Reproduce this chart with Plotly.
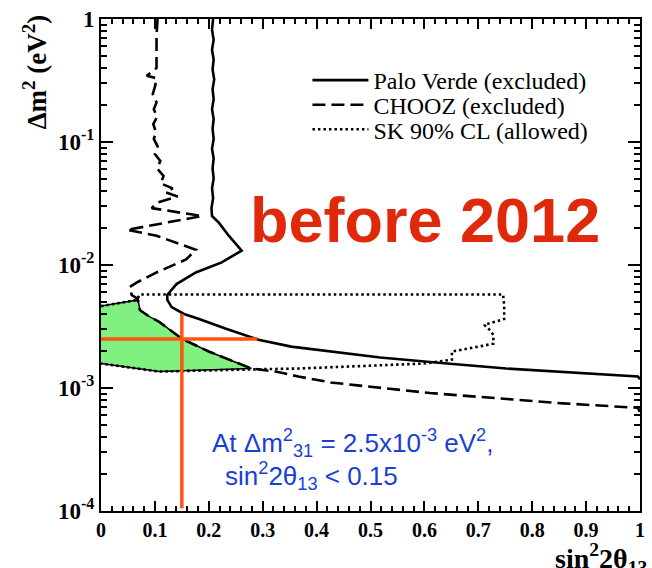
import plotly.graph_objects as go

# Palo Verde excluded contour (solid)
pv_s2 = [0.208, 0.206, 0.209, 0.206, 0.209, 0.207, 0.210, 0.207, 0.209, 0.206,
         0.209, 0.207, 0.209, 0.206, 0.209, 0.207, 0.209, 0.206, 0.208, 0.205,
         0.206, 0.219, 0.237, 0.261, 0.224, 0.176, 0.140, 0.123, 0.123, 0.131,
         0.154, 0.182, 0.232, 0.292, 0.353, 0.415, 0.518, 0.642, 0.752, 0.996, 1.0]
pv_dm2 = [1.0, 0.815, 0.678, 0.563, 0.468, 0.389, 0.323, 0.269, 0.223, 0.185,
          0.154, 0.128, 0.106, 0.0883, 0.0733, 0.061, 0.0506, 0.0421, 0.0349, 0.029,
          0.025, 0.022, 0.0173, 0.0131, 0.0105, 0.0087, 0.0070, 0.0057, 0.0052, 0.00455,
          0.0040, 0.00364, 0.00303, 0.00247, 0.00217, 0.00201, 0.00177, 0.00158, 0.00144, 0.00124, 0.00118]

# CHOOZ excluded contour (dashed)
ch_s2 = [0.105, 0.103, 0.103, 0.085, 0.103, 0.100, 0.096, 0.103, 0.098, 0.104,
         0.097, 0.102, 0.098, 0.105, 0.100, 0.110, 0.104, 0.116, 0.111, 0.133,
         0.120, 0.142, 0.103, 0.094, 0.1875, 0.048, 0.103, 0.176, 0.158, 0.103,
         0.066, 0.053, 0.057, 0.068, 0.070, 0.072, 0.090, 0.108, 0.151, 0.200,
         0.279, 0.324, 0.366, 0.426, 0.476, 0.610, 0.857, 0.996, 1.0]
ch_dm2 = [1.0, 0.74, 0.40, 0.345, 0.33, 0.28, 0.245, 0.21, 0.185, 0.16,
          0.14, 0.12, 0.106, 0.092, 0.08, 0.07, 0.061, 0.053, 0.046, 0.042,
          0.039, 0.036, 0.032, 0.029, 0.025, 0.0193, 0.0173, 0.0133, 0.0111, 0.0087,
          0.0072, 0.0066, 0.0057, 0.0053, 0.0049, 0.0043, 0.0038, 0.00345, 0.0025, 0.00198,
          0.00144, 0.00136, 0.00124, 0.00111, 0.00105, 0.00091, 0.00075, 0.00069, 0.00064]

# SK 90% CL allowed contour (dotted)
sk_s2 = [0.0, 0.066, 0.072, 0.746, 0.748, 0.748, 0.711, 0.721, 0.728, 0.728,
         0.651, 0.651, 0.599, 0.476, 0.366, 0.292, 0.108, 0.0]
sk_dm2 = [0.00463, 0.00518, 0.00575, 0.00575, 0.00472, 0.00364, 0.00326, 0.00297, 0.00271, 0.00229,
          0.00198, 0.0017, 0.00158, 0.0015, 0.00144, 0.00142, 0.00136, 0.00158]

# Allowed region (green)
gr_s2 = [0.0, 0.066, 0.070, 0.072, 0.090, 0.108, 0.151, 0.200, 0.279, 0.200, 0.108, 0.0]
gr_dm2 = [0.00463, 0.00518, 0.0049, 0.0043, 0.0038, 0.00345, 0.0025, 0.00198, 0.00144, 0.0014, 0.00136, 0.00158]

# Orange cross marking the limit
cross_h_s2 = [0.0, 0.29]
cross_h_dm2 = [0.0025, 0.0025]
cross_v_s2 = [0.15, 0.15]
cross_v_dm2 = [1.05e-4, 0.004]

y_tickvals = [1e-4, 1e-3, 1e-2, 1e-1, 1]
y_ticktext = ["10<sup>-4</sup>", "10<sup>-3</sup>", "10<sup>-2</sup>", "10<sup>-1</sup>", "1"]
x_tickvals = [0, 0.1, 0.2, 0.3, 0.4, 0.5, 0.6, 0.7, 0.8, 0.9, 1]
x_ticktext = ["0", "0.1", "0.2", "0.3", "0.4", "0.5", "0.6", "0.7", "0.8", "0.9", "1"]

SERIF = "Liberation Serif, Times New Roman, serif"
SANS = "Liberation Sans, Arial, sans-serif"

fig = go.Figure()
fig.add_trace(go.Scatter(x=gr_s2, y=gr_dm2, fill="toself", fillcolor="#80f080",
                         mode="lines", line=dict(color="black", width=1.5),
                         showlegend=False, hoverinfo="skip"))
fig.add_trace(go.Scatter(x=pv_s2, y=pv_dm2, mode="lines", name="Palo Verde (excluded)",
                         line=dict(color="black", width=2.6), legend="legend"))
fig.add_trace(go.Scatter(x=ch_s2, y=ch_dm2, mode="lines", name="CHOOZ (excluded)",
                         line=dict(color="black", width=2.6, dash="13px,6px"), legend="legend2"))
fig.add_trace(go.Scatter(x=sk_s2, y=sk_dm2, mode="lines", name="SK 90% CL (allowed)",
                         line=dict(color="black", width=2.6, dash="2.5px,3px"), legend="legend3"))
fig.add_trace(go.Scatter(x=cross_h_s2, y=cross_h_dm2, mode="lines", showlegend=False,
                         line=dict(color="#ff5510", width=3.5), hoverinfo="skip"))
fig.add_trace(go.Scatter(x=cross_v_s2, y=cross_v_dm2, mode="lines", showlegend=False,
                         line=dict(color="#ff5510", width=3.5), hoverinfo="skip"))

leg_common = dict(x=0.383, xanchor="left", yanchor="middle",
                  font=dict(family=SERIF, size=24, color="black"),
                  bgcolor="rgba(0,0,0,0)", itemwidth=56)

fig.update_layout(
    width=652, height=568,
    margin=dict(l=101, r=7, t=14, b=57),
    paper_bgcolor="white", plot_bgcolor="white",
    showlegend=True,
    legend=dict(y=0.875, **leg_common),
    legend2=dict(y=0.825, **leg_common),
    legend3=dict(y=0.775, **leg_common),
    xaxis=dict(range=[0, 1], tickvals=x_tickvals, ticktext=x_ticktext,
               ticks="inside", ticklen=10, tickwidth=1.5, tickcolor="black",
               showline=True, linecolor="black", linewidth=2, mirror="ticks",
               showgrid=False, zeroline=False,
               tickfont=dict(family=SERIF, size=20, color="black", weight="bold"),
               minor=dict(ticks="inside", ticklen=5, tickwidth=1.5, tickcolor="black",
                          dtick=0.02, showgrid=False)),
    yaxis=dict(type="log", range=[-4, 0], tickvals=y_tickvals, ticktext=y_ticktext,
               ticks="inside", ticklen=12, tickwidth=1.5, tickcolor="black",
               showline=True, linecolor="black", linewidth=2, mirror="ticks",
               showgrid=False, zeroline=False,
               tickfont=dict(family=SERIF, size=23, color="black", weight="bold"),
               minor=dict(ticks="inside", ticklen=6, tickwidth=1.5, tickcolor="black",
                          dtick="D1", showgrid=False)),
)

fig.add_annotation(xref="paper", yref="paper", x=-0.123, y=0.893, textangle=-90,
                   text="Δm<sup>2</sup> (eV<sup>2</sup>)", showarrow=False,
                   xanchor="center", yanchor="middle",
                   font=dict(family=SERIF, size=27, color="black", weight="bold"))
fig.add_annotation(xref="paper", yref="paper", x=0.838, y=-0.052,
                   text="sin<sup>2</sup>2θ<sub>13</sub>", showarrow=False,
                   xanchor="left", yanchor="top",
                   font=dict(family=SERIF, size=28, color="black", weight="bold"))
fig.add_annotation(xref="paper", yref="paper", x=0.272, y=0.591,
                   text="before 2012", showarrow=False,
                   xanchor="left", yanchor="middle",
                   font=dict(family=SANS, size=63, color="#e0290b", weight="bold"))
fig.add_annotation(xref="paper", yref="paper", x=0.202, y=0.139,
                   text="At Δm<sup>2</sup><sub>31</sub> = 2.5x10<sup>-3</sup> eV<sup>2</sup>,",
                   showarrow=False, xanchor="left", yanchor="middle",
                   font=dict(family=SANS, size=26, color="#1a3fd6"))
fig.add_annotation(xref="paper", yref="paper", x=0.226, y=0.072,
                   text="sin<sup>2</sup>2θ<sub>13</sub> < 0.15",
                   showarrow=False, xanchor="left", yanchor="middle",
                   font=dict(family=SANS, size=26, color="#1a3fd6"))

fig.write_html("out.html")
